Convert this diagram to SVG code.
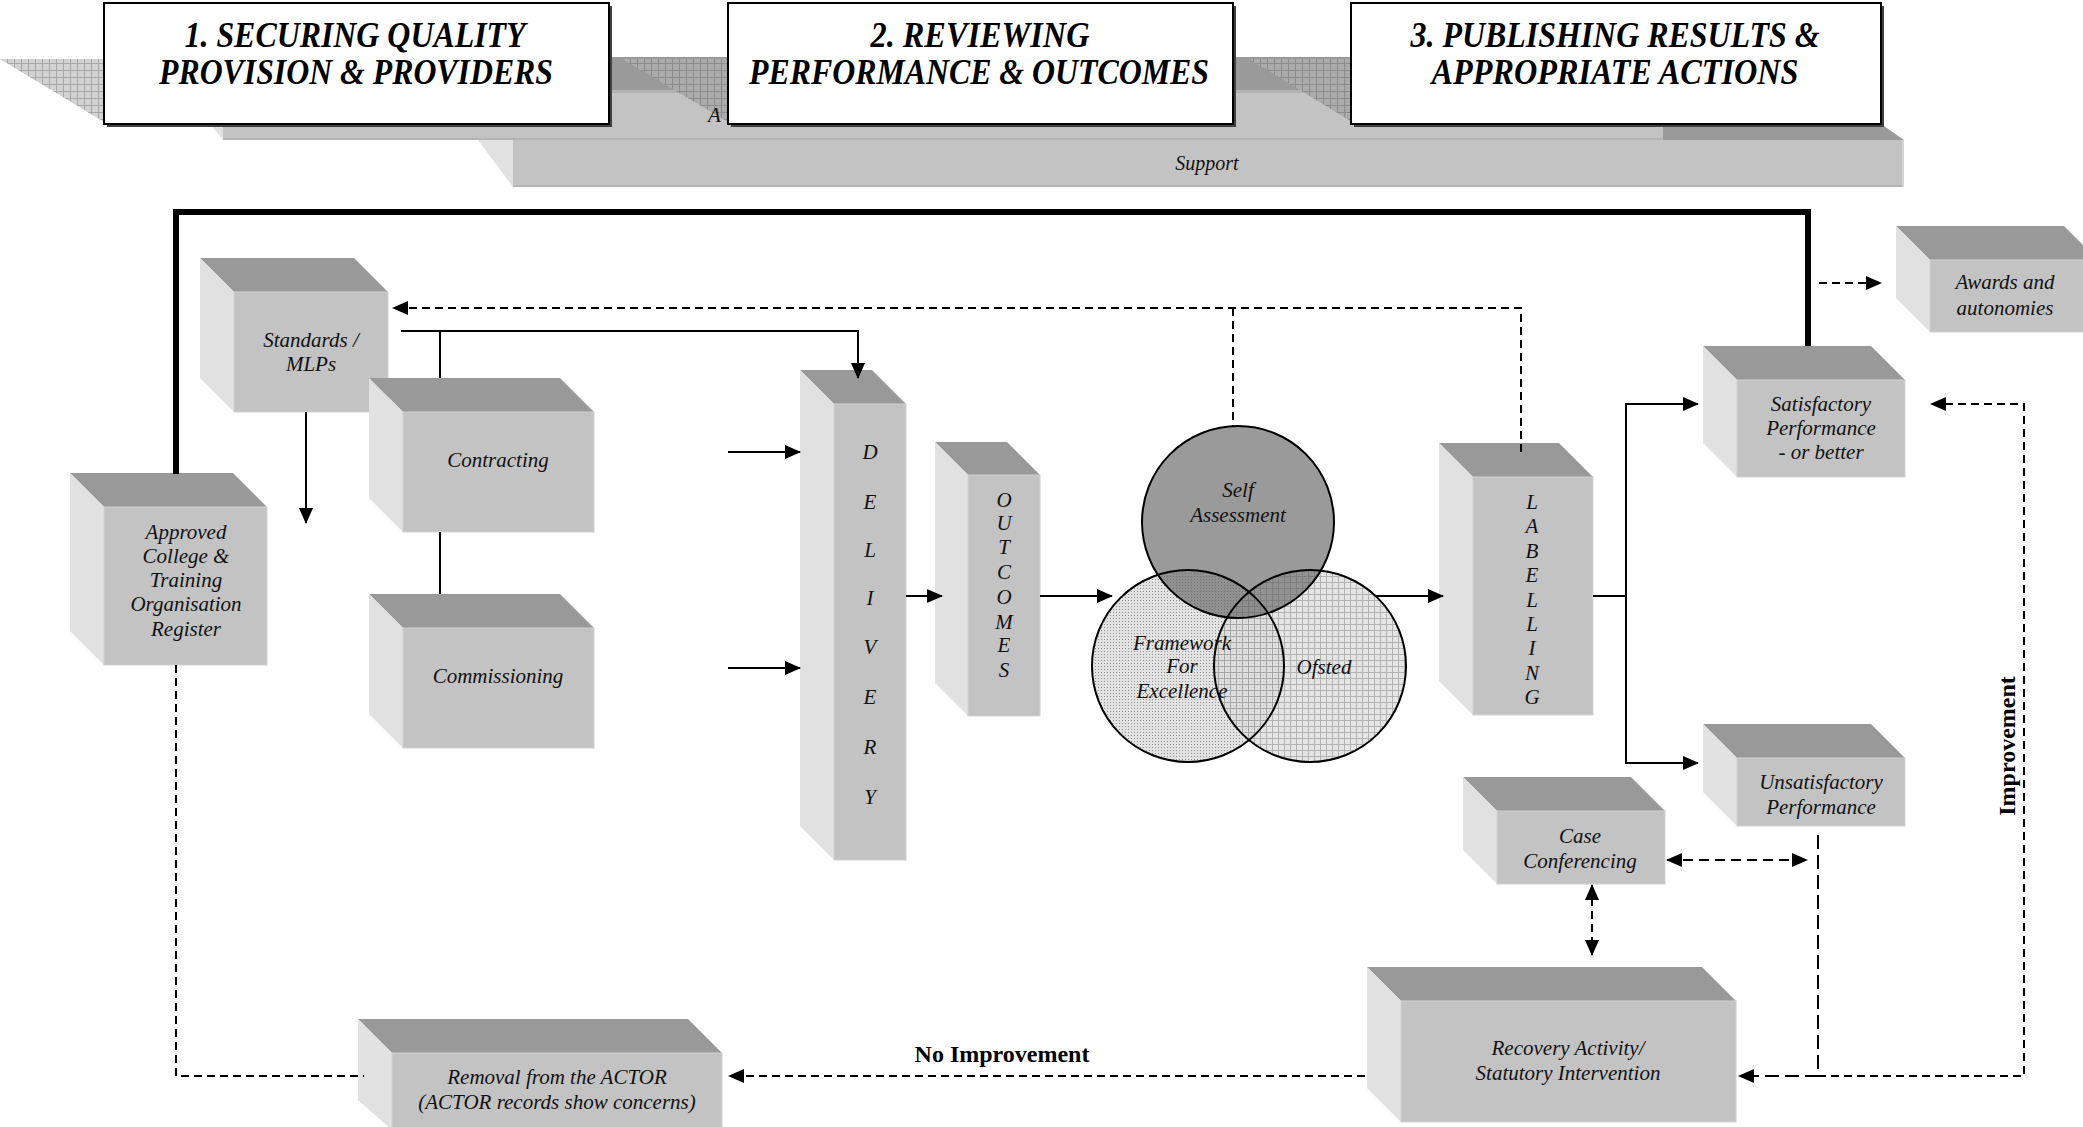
<svg xmlns="http://www.w3.org/2000/svg" width="2083" height="1127" viewBox="0 0 2083 1127">
<defs>
<style>
.top{fill:#999999}
.left{fill:#e1e1e1}
.front{fill:#c3c3c3;stroke:#d2d2d2;stroke-width:1}
.lbl{font-family:"Liberation Serif","Times New Roman",serif;font-style:italic;font-size:21px;fill:#111;text-anchor:middle}
.title{font-family:"Liberation Serif","Times New Roman",serif;font-style:italic;font-weight:bold;font-size:35px;fill:#000;text-anchor:middle}
.bold{font-family:"Liberation Serif","Times New Roman",serif;font-weight:bold;font-size:24px;fill:#000;text-anchor:middle}
.ln{fill:none;stroke:#000;stroke-width:2}
.thick{fill:none;stroke:#000;stroke-width:6}
.dash{fill:none;stroke:#000;stroke-width:2;stroke-dasharray:8 5}
.ldash{fill:none;stroke:#000;stroke-width:2;stroke-dasharray:14 6}
.outline{fill:none;stroke:#000;stroke-width:2}
</style>
<marker id="ah" markerUnits="userSpaceOnUse" markerWidth="16" markerHeight="14" refX="15" refY="7" orient="auto-start-reverse" viewBox="0 0 16 14"><path d="M0,0 L16,7 L0,14 z" fill="#000"/></marker>
<pattern id="gridL" width="7" height="7" patternUnits="userSpaceOnUse"><rect width="7" height="7" fill="#d2d2d2"/><path d="M0,0.5H7M0.5,0V7" stroke="#a8a8a8" stroke-width="1"/></pattern>
<pattern id="gridD" width="7" height="7" patternUnits="userSpaceOnUse"><rect width="7" height="7" fill="#ababab"/><path d="M0,0.5H7M0.5,0V7" stroke="#8c8c8c" stroke-width="1"/></pattern>
<pattern id="dots" width="3" height="3" patternUnits="userSpaceOnUse"><rect width="3" height="3" fill="#e2e2e2"/><rect width="1" height="1" fill="#909090"/></pattern>
<pattern id="ogrid" width="6" height="6" patternUnits="userSpaceOnUse"><rect width="6" height="6" fill="#dcdcdc"/><path d="M0,0.5H6M0.5,0V6" stroke="#9a9a9a" stroke-width="1"/></pattern>
</defs>
<rect width="2083" height="1127" fill="#fff"/>

<g id="banner">
  <polygon points="0,59 104,59 104,122" fill="url(#gridL)"/>
  <polygon points="1663,110 1861,110 1904,140 1663,140" fill="#9a9a9a"/>
  <polygon points="478,140 513,140 513,187" fill="#e1e1e1"/>
  <rect x="513" y="140" width="1391" height="47" fill="#c3c3c3"/>
  <rect x="513" y="185" width="1391" height="2" fill="#b4b4b4"/>
  <rect x="1902" y="140" width="2" height="47" fill="#d4d4d4"/>
  <rect x="150" y="57" width="1513" height="33" fill="#9a9a9a"/>
  <polygon points="182,90 223,90 223,140" fill="#e1e1e1"/>
  <rect x="223" y="90" width="1440" height="50" fill="#c3c3c3"/>
  <rect x="223" y="90" width="1440" height="3" fill="#b2b2b2"/>
  <rect x="223" y="138" width="1440" height="2" fill="#b4b4b4"/>
  <polygon points="622,59 728,59 728,122" fill="url(#gridD)"/>
  <polygon points="1249,59 1352,59 1352,122" fill="url(#gridD)"/>
  <text x="708" y="122" class="lbl" style="text-anchor:start">A</text>
  <text x="1207" y="170" class="lbl" style="font-size:20px">Support</text>
</g>

<g id="title1">
  <rect x="107" y="6" width="505" height="121" fill="#404040"/>
  <rect x="104" y="3" width="505" height="121" fill="#fff" stroke="#000" stroke-width="2"/>
  <text x="355" y="47" class="title" textLength="341" lengthAdjust="spacingAndGlyphs">1. SECURING QUALITY</text>
  <text x="356" y="84" class="title" textLength="394" lengthAdjust="spacingAndGlyphs">PROVISION &amp; PROVIDERS</text>
</g>
<g id="title2">
  <rect x="731" y="6" width="505" height="121" fill="#404040"/>
  <rect x="728" y="3" width="505" height="121" fill="#fff" stroke="#000" stroke-width="2"/>
  <text x="980" y="47" class="title" textLength="219" lengthAdjust="spacingAndGlyphs">2. REVIEWING</text>
  <text x="979" y="84" class="title" textLength="460" lengthAdjust="spacingAndGlyphs">PERFORMANCE &amp; OUTCOMES</text>
</g>
<g id="title3">
  <rect x="1354" y="6" width="530" height="121" fill="#404040"/>
  <rect x="1351" y="3" width="530" height="121" fill="#fff" stroke="#000" stroke-width="2"/>
  <text x="1615" y="47" class="title" textLength="409" lengthAdjust="spacingAndGlyphs">3. PUBLISHING RESULTS &amp;</text>
  <text x="1615" y="84" class="title" textLength="367" lengthAdjust="spacingAndGlyphs">APPROPRIATE ACTIONS</text>
</g>

<g id="standards">
  <polygon class="top" points="200,258 354,258 388,292 234,292"/>
  <polygon class="left" points="200,258 234,292 234,412 200,378"/>
  <rect class="front" x="234" y="292" width="154" height="120"/>
  <text class="lbl" x="311" y="347">Standards /</text>
  <text class="lbl" x="311" y="371">MLPs</text>
</g>
<g id="contracting">
  <polygon class="top" points="369,378 560,378 594,412 403,412"/>
  <polygon class="left" points="369,378 403,412 403,532 369,498"/>
  <rect class="front" x="403" y="412" width="191" height="120"/>
  <text class="lbl" x="498" y="467">Contracting</text>
</g>
<g id="commissioning">
  <polygon class="top" points="369,594 560,594 594,628 403,628"/>
  <polygon class="left" points="369,594 403,628 403,748 369,714"/>
  <rect class="front" x="403" y="628" width="191" height="120"/>
  <text class="lbl" x="498" y="683">Commissioning</text>
</g>
<g id="approved">
  <polygon class="top" points="70,473 233,473 267,507 104,507"/>
  <polygon class="left" points="70,473 104,507 104,665 70,631"/>
  <rect class="front" x="104" y="507" width="163" height="158"/>
  <text class="lbl" x="186" y="539">Approved</text>
  <text class="lbl" x="186" y="563">College &amp;</text>
  <text class="lbl" x="186" y="587">Training</text>
  <text class="lbl" x="186" y="611">Organisation</text>
  <text class="lbl" x="186" y="636">Register</text>
</g>
<g id="delivery">
  <polygon class="top" points="800,370 872,370 906,404 834,404"/>
  <polygon class="left" points="800,370 834,404 834,860 800,826"/>
  <rect class="front" x="834" y="404" width="72" height="456"/>
  <text class="lbl" x="870" y="459">D</text>
  <text class="lbl" x="870" y="509">E</text>
  <text class="lbl" x="870" y="557">L</text>
  <text class="lbl" x="870" y="605">I</text>
  <text class="lbl" x="870" y="654">V</text>
  <text class="lbl" x="870" y="704">E</text>
  <text class="lbl" x="870" y="754">R</text>
  <text class="lbl" x="870" y="804">Y</text>
</g>
<g id="outcomes">
  <polygon class="top" points="935,442 1007,442 1040,475 968,475"/>
  <polygon class="left" points="935,442 968,475 968,716 935,683"/>
  <rect class="front" x="968" y="475" width="72" height="241"/>
  <text class="lbl" x="1004" y="507">O</text>
  <text class="lbl" x="1004" y="530">U</text>
  <text class="lbl" x="1004" y="554">T</text>
  <text class="lbl" x="1004" y="579">C</text>
  <text class="lbl" x="1004" y="604">O</text>
  <text class="lbl" x="1004" y="629">M</text>
  <text class="lbl" x="1004" y="652">E</text>
  <text class="lbl" x="1004" y="677">S</text>
</g>
<g id="venn">
  <circle cx="1188" cy="666" r="96" fill="url(#dots)"/>
  <circle cx="1310" cy="666" r="96" fill="url(#ogrid)" opacity="0.75"/>
  <circle cx="1238" cy="522" r="96" fill="#616161" opacity="0.64"/>
  <circle class="outline" cx="1188" cy="666" r="96"/>
  <circle class="outline" cx="1310" cy="666" r="96"/>
  <circle class="outline" cx="1238" cy="522" r="96"/>
  <text class="lbl" x="1238" y="497">Self</text>
  <text class="lbl" x="1238" y="522">Assessment</text>
  <text class="lbl" x="1182" y="650">Framework</text>
  <text class="lbl" x="1182" y="673">For</text>
  <text class="lbl" x="1182" y="698">Excellence</text>
  <text class="lbl" x="1324" y="674">Ofsted</text>
</g>
<g id="labelling">
  <polygon class="top" points="1439,443 1559,443 1593,477 1473,477"/>
  <polygon class="left" points="1439,443 1473,477 1473,715 1439,681"/>
  <rect class="front" x="1473" y="477" width="120" height="238"/>
  <text class="lbl" x="1532" y="509">L</text>
  <text class="lbl" x="1532" y="533">A</text>
  <text class="lbl" x="1532" y="558">B</text>
  <text class="lbl" x="1532" y="582">E</text>
  <text class="lbl" x="1532" y="607">L</text>
  <text class="lbl" x="1532" y="631">L</text>
  <text class="lbl" x="1532" y="655">I</text>
  <text class="lbl" x="1532" y="680">N</text>
  <text class="lbl" x="1532" y="704">G</text>
</g>
<g id="satisfactory">
  <polygon class="top" points="1703,346 1871,346 1905,380 1737,380"/>
  <polygon class="left" points="1703,346 1737,380 1737,477 1703,443"/>
  <rect class="front" x="1737" y="380" width="168" height="97"/>
  <text class="lbl" x="1821" y="411">Satisfactory</text>
  <text class="lbl" x="1821" y="435">Performance</text>
  <text class="lbl" x="1821" y="459">- or better</text>
</g>
<g id="awards">
  <polygon class="top" points="1896,226 2064,226 2098,260 1930,260"/>
  <polygon class="left" points="1896,226 1930,260 1930,332 1896,298"/>
  <rect class="front" x="1930" y="260" width="168" height="72"/>
  <text class="lbl" x="2005" y="289">Awards and</text>
  <text class="lbl" x="2005" y="315">autonomies</text>
</g>
<g id="unsatisfactory">
  <polygon class="top" points="1703,724 1871,724 1905,758 1737,758"/>
  <polygon class="left" points="1703,724 1737,758 1737,826 1703,792"/>
  <rect class="front" x="1737" y="758" width="168" height="68"/>
  <text class="lbl" x="1821" y="789">Unsatisfactory</text>
  <text class="lbl" x="1821" y="814">Performance</text>
</g>
<g id="case">
  <polygon class="top" points="1463,777 1631,777 1665,811 1497,811"/>
  <polygon class="left" points="1463,777 1497,811 1497,884 1463,850"/>
  <rect class="front" x="1497" y="811" width="168" height="73"/>
  <text class="lbl" x="1580" y="843">Case</text>
  <text class="lbl" x="1580" y="868">Conferencing</text>
</g>
<g id="recovery">
  <polygon class="top" points="1367,967 1702,967 1736,1001 1401,1001"/>
  <polygon class="left" points="1367,967 1401,1001 1401,1122 1367,1088"/>
  <rect class="front" x="1401" y="1001" width="335" height="121"/>
  <text class="lbl" x="1568" y="1055">Recovery Activity/</text>
  <text class="lbl" x="1568" y="1080">Statutory Intervention</text>
</g>
<g id="removal">
  <polygon class="top" points="358,1019 688,1019 722,1053 392,1053"/>
  <polygon class="left" points="358,1019 392,1053 392,1130 358,1100"/>
  <rect class="front" x="392" y="1053" width="330" height="80"/>
  <text class="lbl" x="557" y="1084">Removal from the ACTOR</text>
  <text class="lbl" x="557" y="1109">(ACTOR records show concerns)</text>
</g>

<g id="connectors">
  <path class="thick" d="M176,474 V212 H1808 V346"/>
  <path class="ln" d="M306,412 V523" marker-end="url(#ah)"/>
  <path class="ln" d="M401,331 H858 V378" marker-end="url(#ah)"/>
  <path class="ln" d="M440,331 V378"/>
  <path class="ln" d="M440,532 V594"/>
  <path class="dash" d="M1521,452 V308 H393" marker-end="url(#ah)"/>
  <path class="dash" d="M1233,308 V427"/>
  <path class="ln" d="M728,452 H800" marker-end="url(#ah)"/>
  <path class="ln" d="M728,668 H800" marker-end="url(#ah)"/>
  <path class="ln" d="M906,596 H942" marker-end="url(#ah)"/>
  <path class="ln" d="M1040,596 H1112" marker-end="url(#ah)"/>
  <path class="ln" d="M1376,596 H1443" marker-end="url(#ah)"/>
  <path class="ln" d="M1593,596 H1626"/>
  <path class="ln" d="M1698,404 H1626 V763 H1698" marker-start="url(#ah)" marker-end="url(#ah)"/>
  <path class="dash" d="M1819,283 H1881" marker-end="url(#ah)"/>
  <path class="dash" d="M1818,1076 H2024 V404 H1931" marker-end="url(#ah)"/>
  <path class="ldash" d="M1818,835 V1076 H1739" marker-end="url(#ah)"/>
  <path class="dash" d="M1667,860 H1807" style="stroke-dasharray:10 6" marker-start="url(#ah)" marker-end="url(#ah)"/>
  <path class="dash" d="M1592,885 V955" marker-start="url(#ah)" marker-end="url(#ah)"/>
  <path class="dash" d="M1365,1076 H729" marker-end="url(#ah)"/>
  <path class="dash" d="M176,665 V1076 H364"/>
</g>
<text class="bold" x="1002" y="1062">No Improvement</text>
<text class="bold" transform="translate(2015,746) rotate(-90)" x="0" y="0">Improvement</text>
</svg>
